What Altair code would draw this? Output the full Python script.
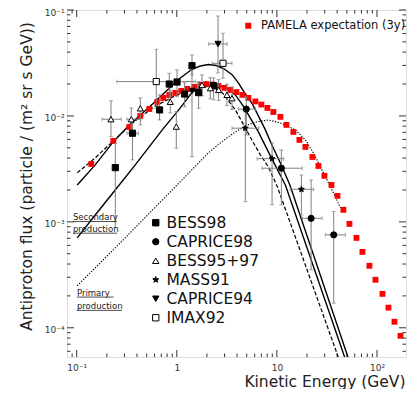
import altair as alt
import pandas as pd

# ---------------- data ----------------
# PAMELA expectation (3 years)
pam_E = [0.140, 0.232, 0.335, 0.432, 0.531, 0.638, 0.733, 0.841, 0.966, 1.109,
         1.274, 1.496, 1.718, 1.972, 2.265, 2.60, 2.985, 3.43, 3.94, 4.52,
         5.19, 6.10, 7.00, 8.04, 9.23, 10.84, 12.45, 14.62, 16.79, 19.28,
         22.65, 26.0, 29.85, 35.1, 40.3, 46.2, 53.1, 62.4, 71.6, 84.1,
         96.6, 113.5, 130.3, 149.6, 171.8]
pam_F = [3.52e-3, 5.81e-3, 7.87e-3, 1.0e-2, 1.164e-2, 1.355e-2, 1.479e-2, 1.578e-2, 1.648e-2, 1.722e-2,
         1.798e-2, 1.879e-2, 1.96e-2, 2.0e-2, 1.98e-2, 1.92e-2, 1.84e-2, 1.76e-2, 1.68e-2, 1.58e-2,
         1.48e-2, 1.37e-2, 1.28e-2, 1.19e-2, 1.09e-2, 9.8e-3, 8.23e-3, 7.06e-3, 5.94e-3, 5.10e-3,
         4.10e-3, 3.37e-3, 2.72e-3, 2.23e-3, 1.76e-3, 1.30e-3, 9.57e-4, 7.06e-4, 5.21e-4, 3.85e-4,
         2.84e-4, 2.09e-4, 1.55e-4, 1.14e-4, 8.4e-5]

# Experimental data sets: E, F, F_lo, F_hi, E_lo, E_hi
bess98 = dict(
    E=[0.243, 0.361, 0.673, 0.841, 1.005, 1.197, 1.419, 1.652, 2.333],
    F=[3.25e-3, 6.87e-3, 1.14e-2, 2.00e-2, 2.09e-2, 1.61e-2, 2.98e-2, 1.66e-2, 1.93e-2],
    F_lo=[8.8e-4, 3.85e-3, 9.17e-3, 1.42e-2, 1.52e-2, 1.22e-2, 2.44e-2, 1.18e-2, 1.42e-2],
    F_hi=[5.5e-3, 9.17e-3, 1.58e-2, 2.53e-2, 2.72e-2, 2.05e-2, 3.76e-2, 2.11e-2, 2.28e-2],
    E_lo=[None, 0.318, None, None, None, None, None, None, None],
    E_hi=[None, 0.415, None, None, None, None, None, None, None])
caprice98 = dict(
    E=[4.95, 11.09, 21.98, 36.98],
    F=[1.16e-2, 3.21e-3, 1.08e-3, 7.54e-4],
    F_lo=[6.62e-3, 1.45e-3, 3.52e-4, 1.71e-4],
    F_hi=[1.51e-2, 4.77e-3, 2.49e-3, 1.25e-3],
    E_lo=[4.15, 7.11, 17.9, 30.5],
    E_hi=[6.10, 17.9, 28.3, 48.4])
bess9597 = dict(
    E=[0.220, 0.351, 0.432, 0.861, 0.989, 1.786, 2.163, 2.618, 3.17, 3.56],
    F=[9.31e-3, 9.31e-3, 1.18e-2, 1.36e-2, 7.93e-3, 1.96e-2, 1.83e-2, 1.76e-2, 1.58e-2, 1.47e-2],
    F_lo=[6.38e-3, 7.38e-3, 8.23e-3, 1.07e-2, 4.96e-3, 1.55e-2, 1.45e-2, 1.40e-2, 1.25e-2, 1.15e-2],
    F_hi=[1.39e-2, 1.19e-2, 1.48e-2, 1.76e-2, 1.10e-2, 2.44e-2, 2.30e-2, 2.20e-2, 2.00e-2, 1.88e-2],
    E_lo=[0.179, 0.318, None, None, None, None, None, None, None, None],
    E_hi=[0.279, 0.438, None, None, None, None, None, None, None, None])
mass91 = dict(
    E=[4.84, 8.95, 17.58],
    F=[7.66e-3, 3.95e-3, 2.03e-3],
    F_lo=[1.55e-3, 1.45e-3, 1.16e-3],
    F_hi=[1.09e-2, 5.56e-3, 2.77e-3],
    E_lo=[3.56, 6.34, 13.6],
    E_hi=[6.58, 11.7, 23.3])
caprice94 = dict(
    E=[1.419, 2.582],
    F=[1.72e-2, 4.78e-2],
    F_lo=[4.13e-3, 2.55e-2],
    F_hi=[2.72e-2, 8.78e-2],
    E_lo=[None, 2.08],
    E_hi=[None, 3.18])
imax92 = dict(
    E=[0.624, 2.897],
    F=[2.11e-2, 3.14e-2],
    F_lo=[1.18e-2, 2.27e-2],
    F_hi=[4.26e-2, 6.03e-2],
    E_lo=[0.252, 2.26],
    E_hi=[1.53, 3.56])

exp_names = ["BESS98", "CAPRICE98", "BESS95+97", "MASS91", "CAPRICE94", "IMAX92"]
exp_sets = [bess98, caprice98, bess9597, mass91, caprice94, imax92]

# Model curves
sec_hi_E = [0.1012, 0.1531, 0.2317, 0.3428, 0.5188, 0.7674, 1.084, 1.429, 1.718, 2.065, 2.483,
            2.985, 3.589, 4.121, 4.842, 5.689, 6.531, 7.674, 9.016, 10.84, 13.49, 53.21]
sec_hi_F = [2.23e-3, 3.45e-3, 5.69e-3, 8.41e-3, 1.19e-2, 1.68e-2, 2.28e-2, 2.77e-2, 2.96e-2, 3.06e-2, 2.99e-2,
            2.77e-2, 2.44e-2, 2.05e-2, 1.61e-2, 1.30e-2, 1.00e-2, 7.38e-3, 5.21e-3, 3.60e-3, 2.23e-3, 4.78e-5]
sec_lo_E = [0.1012, 0.1531, 0.2427, 0.3846, 0.7161, 1.084, 1.429, 1.928, 2.427, 3.055, 3.846,
            4.624, 5.559, 6.531, 7.674, 9.016, 12.16, 49.32]
sec_lo_F = [7.06e-4, 1.16e-3, 2.00e-3, 3.45e-3, 7.38e-3, 1.19e-2, 1.68e-2, 1.96e-2, 2.00e-2, 1.88e-2, 1.58e-2,
            1.24e-2, 9.17e-3, 7.06e-3, 5.21e-3, 3.85e-3, 2.23e-3, 4.78e-5]
sec_dash_E = [0.1012, 0.1531, 0.2317, 0.3846, 0.6095, 0.9661, 1.531, 2.163, 2.851, 3.846, 4.842,
              5.689, 6.839, 8.222, 10.12, 42.66]
sec_dash_F = [2.90e-3, 4.02e-3, 5.81e-3, 8.97e-3, 1.24e-2, 1.55e-2, 1.80e-2, 1.92e-2, 1.65e-2, 1.14e-2, 7.71e-3,
              5.81e-3, 4.29e-3, 3.30e-3, 2.14e-3, 4.78e-5]
prim_E = [0.1012, 0.2723, 0.9016, 2.065, 2.723, 3.589, 4.842, 6.237, 8.222, 10.84, 15.31,
          19.28, 23.17, 29.17, 36.73, 43.15]
prim_F = [2.49e-4, 6.34e-4, 2.00e-3, 4.48e-3, 5.56e-3, 6.76e-3, 8.05e-3, 8.78e-3, 9.17e-3, 8.59e-3, 7.38e-3,
          5.94e-3, 4.48e-3, 2.90e-3, 1.88e-3, 1.36e-3]

# Axis ticks
x_major = [0.1, 1, 10, 100]
x_minor = [0.09, 0.2, 0.3, 0.4, 0.5, 0.6, 0.7, 0.8, 0.9, 2, 3, 4, 5, 6, 7, 8, 9,
           20, 30, 40, 50, 60, 70, 80, 90]
y_major = [1e-4, 1e-3, 1e-2, 1e-1]
y_minor = [6e-5, 7e-5, 8e-5, 9e-5, 2e-4, 3e-4, 4e-4, 5e-4, 6e-4, 7e-4, 8e-4, 9e-4,
           2e-3, 3e-3, 4e-3, 5e-3, 6e-3, 7e-3, 8e-3, 9e-3,
           2e-2, 3e-2, 4e-2, 5e-2, 6e-2, 7e-2, 8e-2, 9e-2]

# Annotations (text, E, F) and underlines (E start, E end, F)
ann_text = ["Secondary", "production", "Primary", "production"]
ann_E = [0.0916, 0.0916, 0.1005, 0.1005]
ann_F = [1.114e-3, 8.53e-4, 2.12e-4, 1.59e-4]
ul_E1 = [0.0916, 0.0916, 0.1005, 0.1005]
ul_E2 = [0.2523, 0.2535, 0.2333, 0.283]
ul_F = [1.007e-3, 7.82e-4, 1.95e-4, 1.46e-4]

# ---------------- build tables ----------------
W, H = 339, 347
FONT = "DejaVu Sans"

pam_df = pd.DataFrame({"E": pam_E, "F": pam_F, "series": "PAMELA expectation (3y)"})

rows = []
for name, d in zip(exp_names, exp_sets):
    for i in range(len(d["E"])):
        rows.append({"exp": name, "E": d["E"][i], "F": d["F"][i],
                     "F_lo": d["F_lo"][i], "F_hi": d["F_hi"][i],
                     "E_lo": d["E_lo"][i], "E_hi": d["E_hi"][i]})
pts = pd.DataFrame(rows)
yerr = pts.dropna(subset=["F_lo"])
xerr = pts.dropna(subset=["E_lo"])
ycap = pd.concat([yerr[["E"]].assign(F=yerr["F_lo"]), yerr[["E"]].assign(F=yerr["F_hi"])])
xcap = pd.concat([xerr[["F"]].assign(E=xerr["E_lo"]), xerr[["F"]].assign(E=xerr["E_hi"])])

curves = pd.concat([
    pd.DataFrame({"E": sec_hi_E, "F": sec_hi_F, "c": "sec_hi", "o": range(len(sec_hi_E))}),
    pd.DataFrame({"E": sec_lo_E, "F": sec_lo_F, "c": "sec_lo", "o": range(len(sec_lo_E))}),
])
dash_df = pd.DataFrame({"E": sec_dash_E, "F": sec_dash_F, "o": range(len(sec_dash_E))})
prim_df = pd.DataFrame({"E": prim_E, "F": prim_F, "o": range(len(prim_E))})

ann_df = pd.DataFrame({"t": ann_text, "E": ann_E, "F": ann_F})
ul_df = pd.DataFrame({"E1": ul_E1, "E2": ul_E2, "F": ul_F})

xmaj = pd.DataFrame({"v": x_major})
xmin = pd.DataFrame({"v": x_minor})
ymaj = pd.DataFrame({"v": y_major})
ymin = pd.DataFrame({"v": y_minor})

# ---------------- scales / axes ----------------
xs = alt.Scale(type="log", domain=[0.08, 195], nice=False)
ys = alt.Scale(type="log", domain=[5.3e-5, 0.1], nice=False)

x_axis = alt.Axis(
    values=x_major,
    labelExpr="datum.value < 0.5 ? '10⁻¹' : datum.value < 5 ? '1' : datum.value < 50 ? '10' : '10²'",
    ticks=False, tickSize=0, domain=False, grid=False,
    labelFont=FONT, labelFontSize=9, labelColor="#333", labelPadding=6,
    title="Kinetic Energy (GeV)", titleFont=FONT, titleFontSize=15.5, titleFontWeight="normal",
    titleColor="#222", titleAlign="right", titleX=338, titleY=29, titleBaseline="alphabetic")
y_axis = alt.Axis(
    values=y_major,
    labelExpr="datum.value < 5e-4 ? '10⁻⁴' : datum.value < 5e-3 ? '10⁻³' : datum.value < 5e-2 ? '10⁻²' : '10⁻¹'",
    ticks=False, tickSize=0, domain=False, grid=False,
    labelFont=FONT, labelFontSize=9, labelColor="#333", labelPadding=3, labelOffset=2,
    title="Antiproton flux (particle / (m² sr s GeV))", titleFont=FONT, titleFontSize=15.5,
    titleFontWeight="normal", titleColor="#222", titleAngle=270, titleAlign="center",
    titleX=-36, titleY=166, titleBaseline="alphabetic")


def X(field):
    return alt.X(field, type="quantitative", scale=xs, axis=x_axis)


def Y(field):
    return alt.Y(field, type="quantitative", scale=ys, axis=y_axis)


# ---------------- layers ----------------
solid = alt.Chart(curves).mark_line(color="black", strokeWidth=1.4, clip=True).encode(
    x=X("E"), y=Y("F"), detail="c:N", order="o:Q")
dashed = alt.Chart(dash_df).mark_line(color="black", strokeWidth=1.2, strokeDash=[4, 2], clip=True).encode(
    x=X("E"), y=Y("F"), order="o:Q")
dotted = alt.Chart(prim_df).mark_line(color="black", strokeWidth=1.1, strokeDash=[1.3, 1.5], clip=True).encode(
    x=X("E"), y=Y("F"), order="o:Q")

pamela = alt.Chart(pam_df).mark_square(size=34, opacity=1).encode(
    x=X("E"), y=Y("F"),
    color=alt.Color("series:N",
                    scale=alt.Scale(domain=["PAMELA expectation (3y)"], range=["#ff0000"]),
                    legend=alt.Legend(orient="none", legendX=175.5, legendY=10, title=None,
                                      labelFont=FONT, labelFontSize=11.5, labelColor="#111",
                                      symbolType="square", symbolSize=36, labelOffset=7,
                                      padding=0)))

ERR = "#808080"
vbar = alt.Chart(yerr).mark_rule(color=ERR, strokeWidth=1).encode(x=X("E"), y=Y("F_lo"), y2="F_hi")
hbar = alt.Chart(xerr).mark_rule(color=ERR, strokeWidth=1).encode(x=X("E_lo"), x2="E_hi", y=Y("F"))
vcap = alt.Chart(ycap).mark_tick(color=ERR, orient="horizontal", size=4, thickness=1).encode(
    x=X("E"), y=Y("F"))
hcap = alt.Chart(xcap).mark_tick(color=ERR, orient="vertical", size=4, thickness=1).encode(
    x=X("E"), y=Y("F"))

STAR = "M0,-1L0.235,-0.324L0.951,-0.309L0.38,0.124L0.588,0.809L0,0.4L-0.588,0.809L-0.38,0.124L-0.951,-0.309L-0.235,-0.324Z"
shapes = ["square", "circle", "triangle-up", STAR, "triangle-down", "square"]
fills = ["black", "black", "white", "black", "black", "white"]
strokes = ["black"] * 6
leg = alt.Legend(orient="none", legendX=81, legendY=205, title=None, labelFont=FONT,
                 labelFontSize=15.5, labelColor="#111", symbolSize=40, symbolStrokeColor="black",
                 symbolStrokeWidth=1, rowPadding=2, labelOffset=3, padding=0)
points = alt.Chart(pts).mark_point(opacity=1, strokeWidth=1, size=38).encode(
    x=X("E"), y=Y("F"),
    shape=alt.Shape("exp:N", scale=alt.Scale(domain=exp_names, range=shapes), legend=leg),
    fill=alt.Fill("exp:N", scale=alt.Scale(domain=exp_names, range=fills), legend=leg),
    stroke=alt.Stroke("exp:N", scale=alt.Scale(domain=exp_names, range=strokes), legend=leg))

ann = alt.Chart(ann_df).mark_text(align="left", baseline="middle", font=FONT, fontSize=8.5,
                                  color="#222").encode(x=X("E"), y=Y("F"), text="t:N")
ul = alt.Chart(ul_df).mark_rule(color="#222", strokeWidth=0.8).encode(x=X("E1"), x2="E2", y=Y("F"))

TICK = "#333"
ticks = [
    alt.Chart(xmaj).mark_rule(color=TICK).encode(x=X("v"), y=alt.value(H), y2=alt.value(H - 7)),
    alt.Chart(xmin).mark_rule(color=TICK).encode(x=X("v"), y=alt.value(H), y2=alt.value(H - 3.5)),
    alt.Chart(xmaj).mark_rule(color=TICK).encode(x=X("v"), y=alt.value(0), y2=alt.value(7)),
    alt.Chart(xmin).mark_rule(color=TICK).encode(x=X("v"), y=alt.value(0), y2=alt.value(3.5)),
    alt.Chart(ymaj).mark_rule(color=TICK).encode(y=Y("v"), x=alt.value(0), x2=alt.value(7)),
    alt.Chart(ymin).mark_rule(color=TICK).encode(y=Y("v"), x=alt.value(0), x2=alt.value(3.5)),
    alt.Chart(ymaj).mark_rule(color=TICK).encode(y=Y("v"), x=alt.value(W), x2=alt.value(W - 7)),
    alt.Chart(ymin).mark_rule(color=TICK).encode(y=Y("v"), x=alt.value(W), x2=alt.value(W - 3.5)),
]

chart = alt.layer(
    *ticks, dotted, solid, dashed, pamela, vbar, hbar, vcap, hcap, points, ul, ann
).properties(
    width=W, height=H,
    autosize=alt.AutoSizeParams(type="none"),
    padding={"left": 59, "top": 2, "right": 1, "bottom": 32},
).configure_view(stroke="#222", strokeWidth=1).configure(background="white")

chart.save("out.html", embed_options={"renderer": "svg", "actions": False})
